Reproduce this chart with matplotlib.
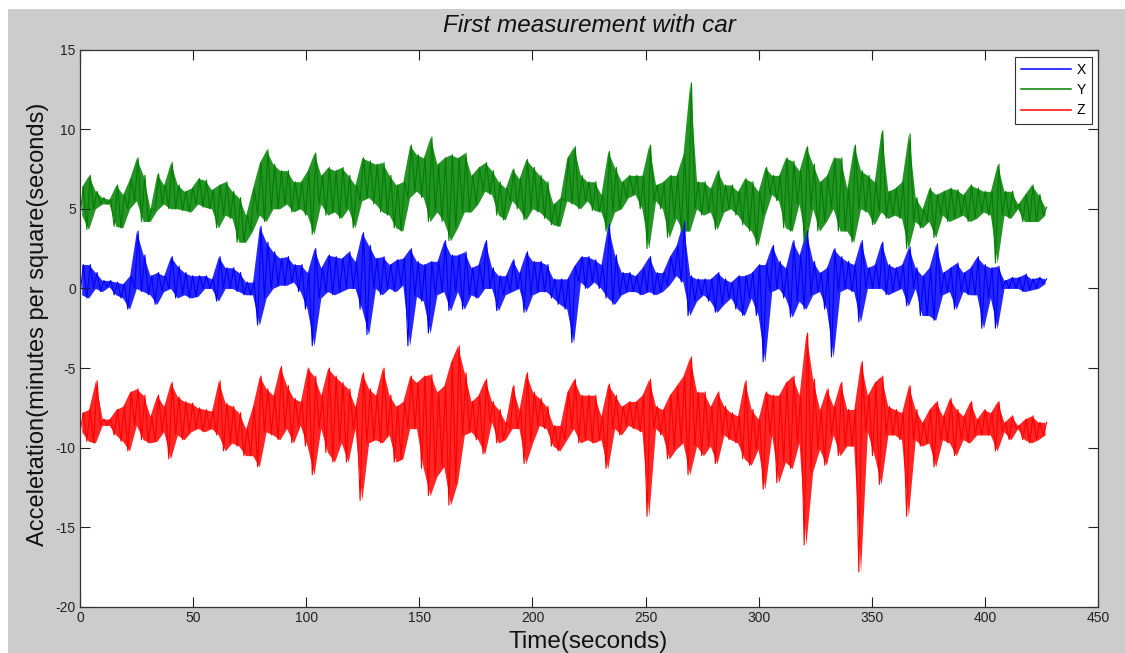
import numpy as np
import matplotlib
matplotlib.use("Agg")
import matplotlib.pyplot as plt
from matplotlib.patches import Rectangle

plt.rcParams['font.family'] = ['Liberation Sans', 'DejaVu Sans']
plt.rcParams['axes.unicode_minus'] = False

# ---- data: per 3-s bin, upper / lower extent of each trace ----
bin_sec = 3.02
start_value = 0.0

x_hi = [1.5, 1.5, 1.0, 0.5, 0.5, 0.4, 0.3, 0.8, 3.6, 2.1, 0.8, 1.0, 0.8, 2.0, 1.4, 1.0, 0.8, 0.8, 0.8, 0.6, 2.0, 1.3, 1.3, 1.0, 0.4,
        0.4, 3.9, 2.9, 2.3, 1.9, 2.0, 1.5, 1.5, 1.0, 2.5, 1.3, 2.1, 2.0, 1.9, 2.3, 1.7, 3.5, 2.7, 1.9, 2.0, 1.5, 1.8, 1.9, 2.5, 1.7,
        1.5, 1.7, 1.7, 3.0, 2.1, 2.1, 2.3, 1.3, 1.5, 3.0, 1.3, 0.8, 0.8, 1.8, 1.0, 2.3, 1.7, 1.7, 1.5, 0.6, 0.6, 0.6, 1.4, 2.0, 2.0,
        1.8, 1.5, 4.0, 2.1, 1.0, 1.0, 0.8, 1.3, 2.0, 1.0, 1.0, 2.0, 2.7, 4.2, 0.8, 0.6, 0.6, 0.6, 1.0, 0.6, 0.4, 0.8, 0.8, 1.0, 1.5,
        1.5, 2.7, 1.7, 1.3, 3.0, 2.1, 3.6, 1.7, 1.0, 1.3, 2.5, 2.0, 1.7, 1.5, 3.0, 1.3, 1.5, 2.9, 1.5, 1.3, 1.5, 2.6, 1.3, 0.8, 1.3,
        2.8, 1.0, 1.3, 1.6, 1.0, 1.3, 2.0, 1.5, 1.3, 1.4, 0.5, 0.7, 0.7, 0.9, 0.6, 0.7, 0.6]
x_lo = [-0.4, -0.6, 0.0, -0.2, 0.1, -0.4, -0.6, -1.3, 0.0, -0.2, -0.4, -1.0, -0.2, 0.0, -0.6, -0.4, -0.6, -0.5, 0.0, 0.0, -0.8, 0.0, 0.0, -0.2, -0.4,
        -0.4, -2.3, -0.6, 0.0, 0.2, 0.2, 0.4, -0.2, -1.3, -3.6, -0.6, -0.2, -0.4, -0.2, 0.0, 0.0, -1.3, -2.9, 0.0, -0.4, 0.0, -0.2, 0.2, -3.6, -0.5,
        -0.8, -2.8, -0.4, -0.2, -1.4, -0.2, -1.3, -0.4, -0.6, 0.0, 0.0, -1.4, -0.4, -0.2, 0.0, -1.5, -0.4, -0.2, -0.2, -0.6, -1.0, -1.3, -3.4, 0.4, 0.0,
        0.4, 0.0, -0.6, -1.0, -0.4, -0.2, -0.2, -0.4, -0.2, -0.4, -0.2, 0.2, 0.8, 0.4, -1.7, -0.8, -0.4, -0.8, -1.5, -1.0, -0.6, -1.3, -1.7, -0.6, -1.7,
        -4.6, -0.2, 0.0, -0.6, -1.8, -0.8, -1.3, -0.4, -0.2, -1.3, -4.3, -0.2, 0.0, -0.2, -2.1, 0.0, 0.0, 0.0, -0.4, -0.2, 0.0, -1.1, 0.0, -1.7, -1.7,
        -2.0, -0.4, -0.2, -1.3, -0.2, -0.4, -0.4, -2.5, -0.6, -2.5, 0.0, 0.0, 0.0, -0.2, -0.1, 0.0, 0.3]

y_hi = [6.4, 7.1, 6.1, 5.7, 5.6, 6.5, 5.9, 6.9, 8.2, 7.1, 5.0, 7.2, 6.5, 7.9, 6.5, 6.1, 6.3, 6.9, 6.8, 6.2, 6.5, 6.7, 6.1, 5.7, 4.6,
        6.3, 7.9, 8.7, 7.8, 7.4, 7.4, 6.7, 6.7, 7.4, 8.5, 7.1, 7.6, 7.4, 7.6, 7.1, 6.5, 8.2, 8.0, 7.8, 7.9, 7.1, 6.5, 6.7, 9.0, 8.4,
        8.2, 9.5, 7.8, 8.2, 8.4, 8.2, 8.5, 7.1, 7.6, 7.9, 7.4, 6.7, 6.3, 7.5, 6.9, 8.1, 7.6, 7.1, 6.7, 5.3, 5.7, 8.2, 8.9, 7.1, 6.7,
        6.7, 5.9, 8.6, 7.6, 6.7, 7.1, 7.1, 7.1, 9.0, 6.5, 6.7, 7.1, 7.1, 8.4, 12.9, 6.7, 6.7, 6.3, 7.4, 6.5, 6.5, 6.1, 6.9, 6.7, 6.1,
        7.6, 7.1, 7.1, 8.2, 8.0, 7.4, 8.9, 7.8, 6.7, 7.1, 8.2, 8.2, 6.3, 9.0, 7.4, 7.1, 6.7, 9.9, 6.1, 6.3, 6.7, 9.7, 5.7, 5.0, 6.3,
        5.9, 6.1, 6.3, 6.2, 5.9, 6.5, 6.3, 6.1, 6.1, 7.8, 6.1, 6.1, 5.3, 5.9, 6.5, 5.9, 5.1]
y_lo = [4.6, 3.7, 5.0, 5.3, 5.3, 3.9, 3.8, 5.0, 5.5, 4.2, 4.2, 4.9, 5.3, 5.0, 5.0, 4.9, 4.8, 5.3, 5.1, 5.0, 3.8, 4.6, 4.4, 2.9, 2.9,
        3.6, 4.6, 4.2, 5.0, 5.0, 5.3, 4.8, 5.0, 4.6, 3.4, 5.3, 4.6, 4.8, 4.4, 5.0, 3.8, 5.5, 5.7, 5.3, 4.8, 4.6, 3.8, 3.6, 5.7, 6.1,
        5.7, 4.2, 4.8, 4.2, 3.0, 3.8, 4.8, 4.8, 5.3, 6.1, 5.9, 4.6, 4.3, 5.5, 5.0, 4.3, 5.0, 4.8, 4.4, 4.0, 3.9, 5.5, 5.3, 5.0, 5.5,
        4.9, 4.8, 3.6, 4.8, 5.0, 5.7, 5.9, 5.0, 2.5, 5.5, 5.0, 3.2, 4.4, 3.6, 3.6, 5.0, 4.6, 4.8, 3.7, 4.8, 5.0, 4.6, 4.0, 3.6, 2.7,
        4.6, 5.9, 5.5, 3.8, 3.6, 5.3, 2.9, 5.0, 3.6, 4.2, 5.0, 3.6, 3.6, 2.9, 5.0, 4.8, 4.0, 4.8, 4.4, 4.6, 4.4, 2.5, 4.2, 3.8, 4.2,
        3.2, 4.6, 4.2, 4.4, 4.6, 4.2, 4.4, 4.8, 4.6, 1.6, 4.6, 4.4, 5.0, 4.2, 4.2, 4.2, 4.6]

z_hi = [-7.8, -7.6, -5.8, -8.2, -8.2, -7.6, -7.4, -6.5, -6.3, -6.7, -8.0, -6.7, -7.4, -5.9, -6.8, -7.1, -7.2, -7.5, -7.6, -7.7, -5.8, -7.2, -7.4, -7.8, -8.8,
        -7.4, -5.5, -6.3, -6.7, -4.9, -6.1, -6.9, -7.1, -5.0, -5.5, -6.7, -5.0, -5.5, -5.9, -6.3, -7.4, -5.3, -6.3, -6.7, -5.0, -6.7, -7.4, -7.1, -5.5, -5.9,
        -5.5, -5.4, -6.5, -6.1, -4.6, -3.6, -5.3, -7.1, -6.7, -5.7, -7.1, -7.6, -8.4, -6.1, -7.6, -5.3, -6.5, -6.9, -7.4, -8.6, -8.6, -6.5, -5.7, -6.7, -6.7,
        -6.7, -8.0, -6.0, -6.7, -7.4, -7.1, -7.1, -6.7, -5.7, -7.4, -7.6, -6.7, -6.1, -5.5, -4.3, -6.5, -6.5, -7.4, -6.5, -7.4, -7.8, -8.0, -5.8, -7.6, -8.2,
        -6.5, -6.7, -6.7, -5.9, -5.5, -6.7, -2.8, -5.7, -7.6, -6.3, -7.4, -5.9, -7.6, -7.6, -4.6, -6.7, -5.9, -5.5, -7.4, -7.6, -7.8, -6.1, -7.6, -8.4, -7.6,
        -7.1, -8.0, -6.9, -7.6, -8.0, -7.1, -8.2, -7.6, -7.8, -7.1, -8.4, -8.0, -8.6, -8.2, -8.0, -8.4, -8.4]
z_lo = [-9.0, -9.6, -9.7, -8.6, -8.6, -9.2, -9.6, -10.2, -8.6, -9.5, -9.7, -9.6, -9.0, -10.7, -9.2, -9.5, -9.0, -8.8, -9.0, -8.8, -9.2, -10.2, -9.7, -9.9, -10.5,
        -10.5, -11.2, -9.0, -9.2, -9.5, -8.8, -9.7, -8.6, -9.9, -11.7, -8.8, -10.3, -10.9, -9.7, -10.9, -8.8, -13.3, -9.7, -9.5, -9.7, -9.2, -10.9, -10.7, -8.8, -8.8,
        -11.3, -13.0, -11.8, -11.2, -13.6, -12.2, -9.2, -9.0, -9.5, -10.4, -8.4, -9.7, -9.5, -8.8, -8.8, -11.0, -9.7, -8.6, -8.8, -9.9, -10.2, -9.5, -8.8, -9.7, -9.5,
        -9.7, -9.5, -11.3, -8.8, -9.2, -8.6, -8.8, -9.0, -14.3, -8.8, -9.2, -10.7, -10.1, -9.7, -11.7, -9.9, -10.5, -9.9, -11.0, -9.2, -9.5, -9.7, -10.7, -11.1, -10.1,
        -12.6, -9.2, -12.2, -10.9, -11.3, -9.7, -16.1, -11.5, -10.1, -11.1, -9.2, -10.5, -9.9, -9.9, -17.8, -9.0, -10.5, -12.3, -9.2, -9.2, -9.5, -14.3, -9.5, -9.9, -9.7,
        -11.2, -9.5, -9.7, -10.5, -9.5, -9.7, -9.2, -9.2, -9.2, -10.2, -9.0, -9.5, -8.8, -9.5, -9.7, -9.5, -9.2]

series_names = ['X', 'Y', 'Z']
series_colors = ['#0000ff', '#008000', '#ff0000']
x_ticks = [0, 50, 100, 150, 200, 250, 300, 350, 400, 450]
y_ticks = [-20, -15, -10, -5, 0, 5, 10, 15]


def trace(hi, lo):
    """Interleave per-bin lower/upper extents into one polyline (min/max rendering)."""
    n = len(hi)
    starts = np.arange(n) * bin_sec
    t = np.empty(2 * n)
    v = np.empty(2 * n)
    t[0::2] = starts
    t[1::2] = starts + bin_sec / 2
    v[0::2] = lo
    v[1::2] = hi
    return np.concatenate([[0.0], t]), np.concatenate([[start_value], v])


W, H = 1125, 653
fig = plt.figure(figsize=(W / 100, H / 100), dpi=100, facecolor='#cccccc')
# white strips along the left and top edges of the screenshot
fig.patches.append(Rectangle((0, 0), 8 / W, 1, transform=fig.transFigure,
                             facecolor='white', edgecolor='none', zorder=-1))
fig.patches.append(Rectangle((0, 1 - 9 / H), 1, 9 / H, transform=fig.transFigure,
                             facecolor='white', edgecolor='none', zorder=-1))

ax_top, ax_bot = 49.5, 607
ax = fig.add_axes([80 / W, 1 - ax_bot / H, 1018 / W, (ax_bot - ax_top) / H])
ax.set_facecolor('white')

for name, col, (hi, lo) in zip(series_names, series_colors,
                               [(x_hi, x_lo), (y_hi, y_lo), (z_hi, z_lo)]):
    n = len(hi)
    mids = np.arange(n) * bin_sec + bin_sec / 4
    ax.fill_between(mids, lo, hi, color=col, lw=0, alpha=0.85)
    t, v = trace(hi, lo)
    ax.plot(t, v, color=col, lw=0.8, label=name)

ax.set_xlim(0, 450)
ax.set_ylim(-20, 15)
ax.set_xticks(x_ticks)
ax.set_yticks(y_ticks)
ax.tick_params(direction='in', length=7.5, width=0.8, top=True, right=True,
               labelsize=10, colors='#222222', pad=3)
for sp in ax.spines.values():
    sp.set_linewidth(0.9)
    sp.set_color('#333333')

leg = ax.legend(loc='upper right', bbox_to_anchor=(0.994, 0.987), borderaxespad=0,
                fontsize=10, handlelength=3.6, handletextpad=0.4, labelspacing=0.45,
                fancybox=False, framealpha=1, edgecolor='#333333', borderpad=0.45)
leg.get_frame().set_linewidth(0.8)
for ln in leg.get_lines():
    ln.set_linewidth(1.1)

fig.text(589 / W, 1 - 32.5 / H, 'First measurement with car', ha='center', va='baseline',
         fontsize=17.5, style='italic', color='#111111')
fig.text(588 / W, 1 - 642 / H, 'Time(seconds)', ha='center', va='center', fontsize=17.5,
         color='#111111')
fig.text(38 / W, 1 - 324 / H, 'Acceletation(minutes per square(seconds)', ha='center',
         va='center', rotation=90, fontsize=17, color='#111111')

fig.savefig('out.png', dpi=100, facecolor=fig.get_facecolor())
